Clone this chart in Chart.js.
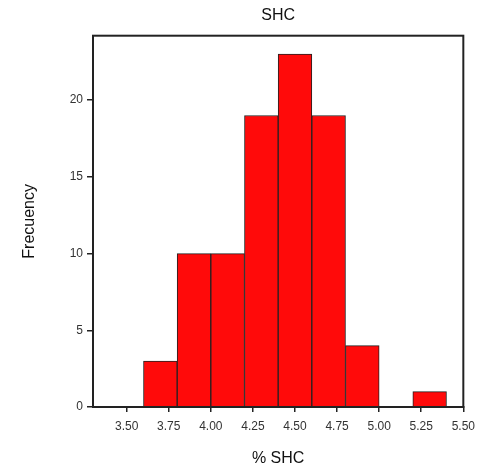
<!DOCTYPE html>
<html>
<head>
<meta charset="utf-8">
<script src="https://cdn.jsdelivr.net/npm/chart.js@4"></script>
<style>
  body { margin: 0; background: #fff; }
  #wrap { width: 482px; height: 468px; }
</style>
</head>
<body>
<div id="wrap"><canvas id="hist"></canvas></div>
<script>
// bin centres (width 0.2) and counts
var binCenters = [3.7, 3.9, 4.1, 4.3, 4.5, 4.7, 4.9, 5.1, 5.3];
var counts = [3, 10, 10, 19, 23, 19, 4, 0, 1];
var xTicks = [3.50, 3.75, 4.00, 4.25, 4.50, 4.75, 5.00, 5.25, 5.50];
var yTicks = [0, 5, 10, 15, 20];

var points = binCenters.map(function (c, i) { return { x: c, y: counts[i] }; });

// box round the plot area
var boxPlugin = {
  id: 'box',
  afterDraw: function (chart) {
    var a = chart.chartArea, ctx = chart.ctx;
    ctx.save();
    ctx.strokeStyle = '#222';
    ctx.lineWidth = 2;
    ctx.strokeRect(a.left, a.top, a.right - a.left, a.bottom - a.top);
    ctx.restore();
  }
};

new Chart(document.getElementById('hist'), {
  type: 'bar',
  data: {
    datasets: [{
      data: points,
      backgroundColor: '#ff0a0a',
      borderColor: '#222',
      borderWidth: 1,
      borderSkipped: 'start',
      barPercentage: 1,
      categoryPercentage: 1
    }]
  },
  options: {
    responsive: true,
    maintainAspectRatio: false,
    animation: false,
    layout: { padding: { left: 0, right: 18, top: 0, bottom: 0 } },
    plugins: {
      legend: { display: false },
      tooltip: { enabled: false },
      title: {
        display: true,
        fullSize: false,
        text: 'SHC',
        color: '#111',
        font: { family: 'Arial, Liberation Sans', size: 16, weight: 'normal' },
        padding: { top: 6, bottom: 10.5 }
      }
    },
    scales: {
      x: {
        type: 'linear',
        offset: false,
        min: 3.3,
        max: 5.5,
        afterBuildTicks: function (s) { s.ticks = xTicks.map(function (v) { return { value: v }; }); },
        afterFit: function (s) { s.height = 61; },
        ticks: {
          color: '#333',
          font: { family: 'Arial, Liberation Sans', size: 12 },
          maxRotation: 0,
          padding: 7,
          callback: function (v) { return v.toFixed(2); }
        },
        grid: { offset: false, drawOnChartArea: false, tickLength: 5, color: '#222', lineWidth: 1.5 },
        border: { color: '#222', width: 2 },
        title: {
          display: true,
          text: '% SHC',
          color: '#111',
          font: { family: 'Arial, Liberation Sans', size: 16 },
          padding: { top: 10, bottom: 0 }
        }
      },
      y: {
        min: 0,
        max: 24.2,
        afterBuildTicks: function (s) { s.ticks = yTicks.map(function (v) { return { value: v }; }); },
        afterFit: function (s) { s.width = 93; },
        ticks: {
          color: '#333',
          font: { family: 'Arial, Liberation Sans', size: 12 },
          padding: 4
        },
        grid: { drawOnChartArea: false, tickLength: 6, color: '#222', lineWidth: 1.5 },
        border: { color: '#222', width: 2 },
        title: {
          display: true,
          text: 'Frecuency',
          color: '#111',
          font: { family: 'Arial, Liberation Sans', size: 16 },
          padding: { top: 20, bottom: 0 }
        }
      }
    }
  },
  plugins: [boxPlugin]
});
</script>
</body>
</html>
